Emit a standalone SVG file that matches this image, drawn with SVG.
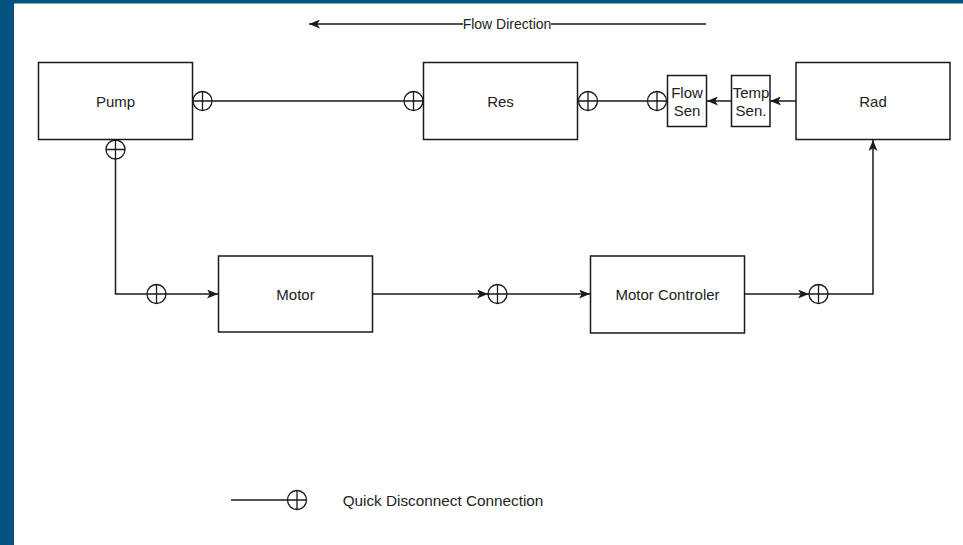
<svg xmlns="http://www.w3.org/2000/svg" width="963" height="545" viewBox="0 0 963 545">
<style>
.box{fill:#fff;stroke:#1a1a1a;stroke-width:1.5}
.ln{fill:none;stroke:#1a1a1a;stroke-width:1.5}
.lbl{font-family:"Liberation Sans",Arial,sans-serif;font-size:15px;fill:#222;text-anchor:middle;dominant-baseline:central}
.qd circle{fill:#fff;stroke:#1a1a1a;stroke-width:1.3}
.qd path{stroke:#1a1a1a;stroke-width:1.3}
</style>
<defs>
<marker id="arr" markerUnits="userSpaceOnUse" markerWidth="11" markerHeight="9" viewBox="0 0 11 9" refX="11" refY="4.5" orient="auto">
<path d="M0,0 L11,4.5 L0,9 L2.8,4.5 z" fill="#1a1a1a"/>
</marker>
<g id="qdsym" class="qd"><circle r="9.5"/><path d="M-9.5,0H9.5M0,-9.5V9.5"/></g>
</defs>
<rect x="0" y="0" width="963" height="545" fill="#fff"/>
<rect x="0" y="0" width="14" height="545" fill="#03527f"/>
<rect x="0" y="0" width="963" height="3.5" fill="#03527f"/>

<g id="connectors">
<line class="ln" x1="706" y1="24" x2="309" y2="24" marker-end="url(#arr)"/>
<line class="ln" x1="212" y1="101" x2="404" y2="101"/>
<line class="ln" x1="597.5" y1="101" x2="647.5" y2="101"/>
<line class="ln" x1="731.5" y1="101" x2="707" y2="101" marker-end="url(#arr)"/>
<line class="ln" x1="796" y1="101" x2="770" y2="101" marker-end="url(#arr)"/>
<path class="ln" d="M115.5,159 V294 H218" marker-end="url(#arr)"/>
<line class="ln" x1="372.5" y1="294" x2="488" y2="294" marker-end="url(#arr)"/>
<line class="ln" x1="507" y1="294" x2="590" y2="294" marker-end="url(#arr)"/>
<line class="ln" x1="745" y1="294" x2="809" y2="294" marker-end="url(#arr)"/>
<path class="ln" d="M828,294 H873 V140" marker-end="url(#arr)"/>
<line class="ln" x1="231" y1="500" x2="287" y2="500"/>
</g>

<g id="flow-direction">
<rect x="463" y="16" width="88" height="16" fill="#fff"/>
<text class="lbl" x="507" y="24" style="font-size:14px">Flow Direction</text>
</g>

<g id="pump"><rect class="box" x="38.5" y="62.5" width="154" height="77"/><text class="lbl" x="115.5" y="101">Pump</text></g>
<g id="res"><rect class="box" x="423.5" y="62.5" width="154" height="77"/><text class="lbl" x="500.5" y="101">Res</text></g>
<g id="flow-sen"><rect class="box" x="667.5" y="75.5" width="39" height="51"/><text class="lbl" x="687" y="92">Flow</text><text class="lbl" x="687" y="110">Sen</text></g>
<g id="temp-sen"><rect class="box" x="731.5" y="75.5" width="38.5" height="51"/><text class="lbl" x="751" y="92">Temp</text><text class="lbl" x="751" y="110">Sen.</text></g>
<g id="rad"><rect class="box" x="796" y="62.5" width="154" height="77"/><text class="lbl" x="873" y="101">Rad</text></g>
<g id="motor"><rect class="box" x="218.5" y="256" width="154" height="76"/><text class="lbl" x="295.5" y="294">Motor</text></g>
<g id="motor-controler"><rect class="box" x="590.5" y="256" width="154" height="77"/><text class="lbl" x="667.5" y="294">Motor Controler</text></g>

<g id="qd-pump-right"><use href="#qdsym" x="202.5" y="101"/></g>
<g id="qd-pump-bottom"><use href="#qdsym" x="115.5" y="149.5"/></g>
<g id="qd-res-left"><use href="#qdsym" x="413.5" y="101"/></g>
<g id="qd-res-right"><use href="#qdsym" x="588" y="101"/></g>
<g id="qd-flow-sen"><use href="#qdsym" x="657" y="101"/></g>
<g id="qd-motor-in"><use href="#qdsym" x="156.5" y="294"/></g>
<g id="qd-motor-out"><use href="#qdsym" x="497.5" y="294"/></g>
<g id="qd-controler-out"><use href="#qdsym" x="818.5" y="294"/></g>

<g id="legend">
<use href="#qdsym" x="297" y="500"/>
<text class="lbl" x="443" y="500" style="font-size:15.3px">Quick Disconnect Connection</text>
</g>
</svg>
